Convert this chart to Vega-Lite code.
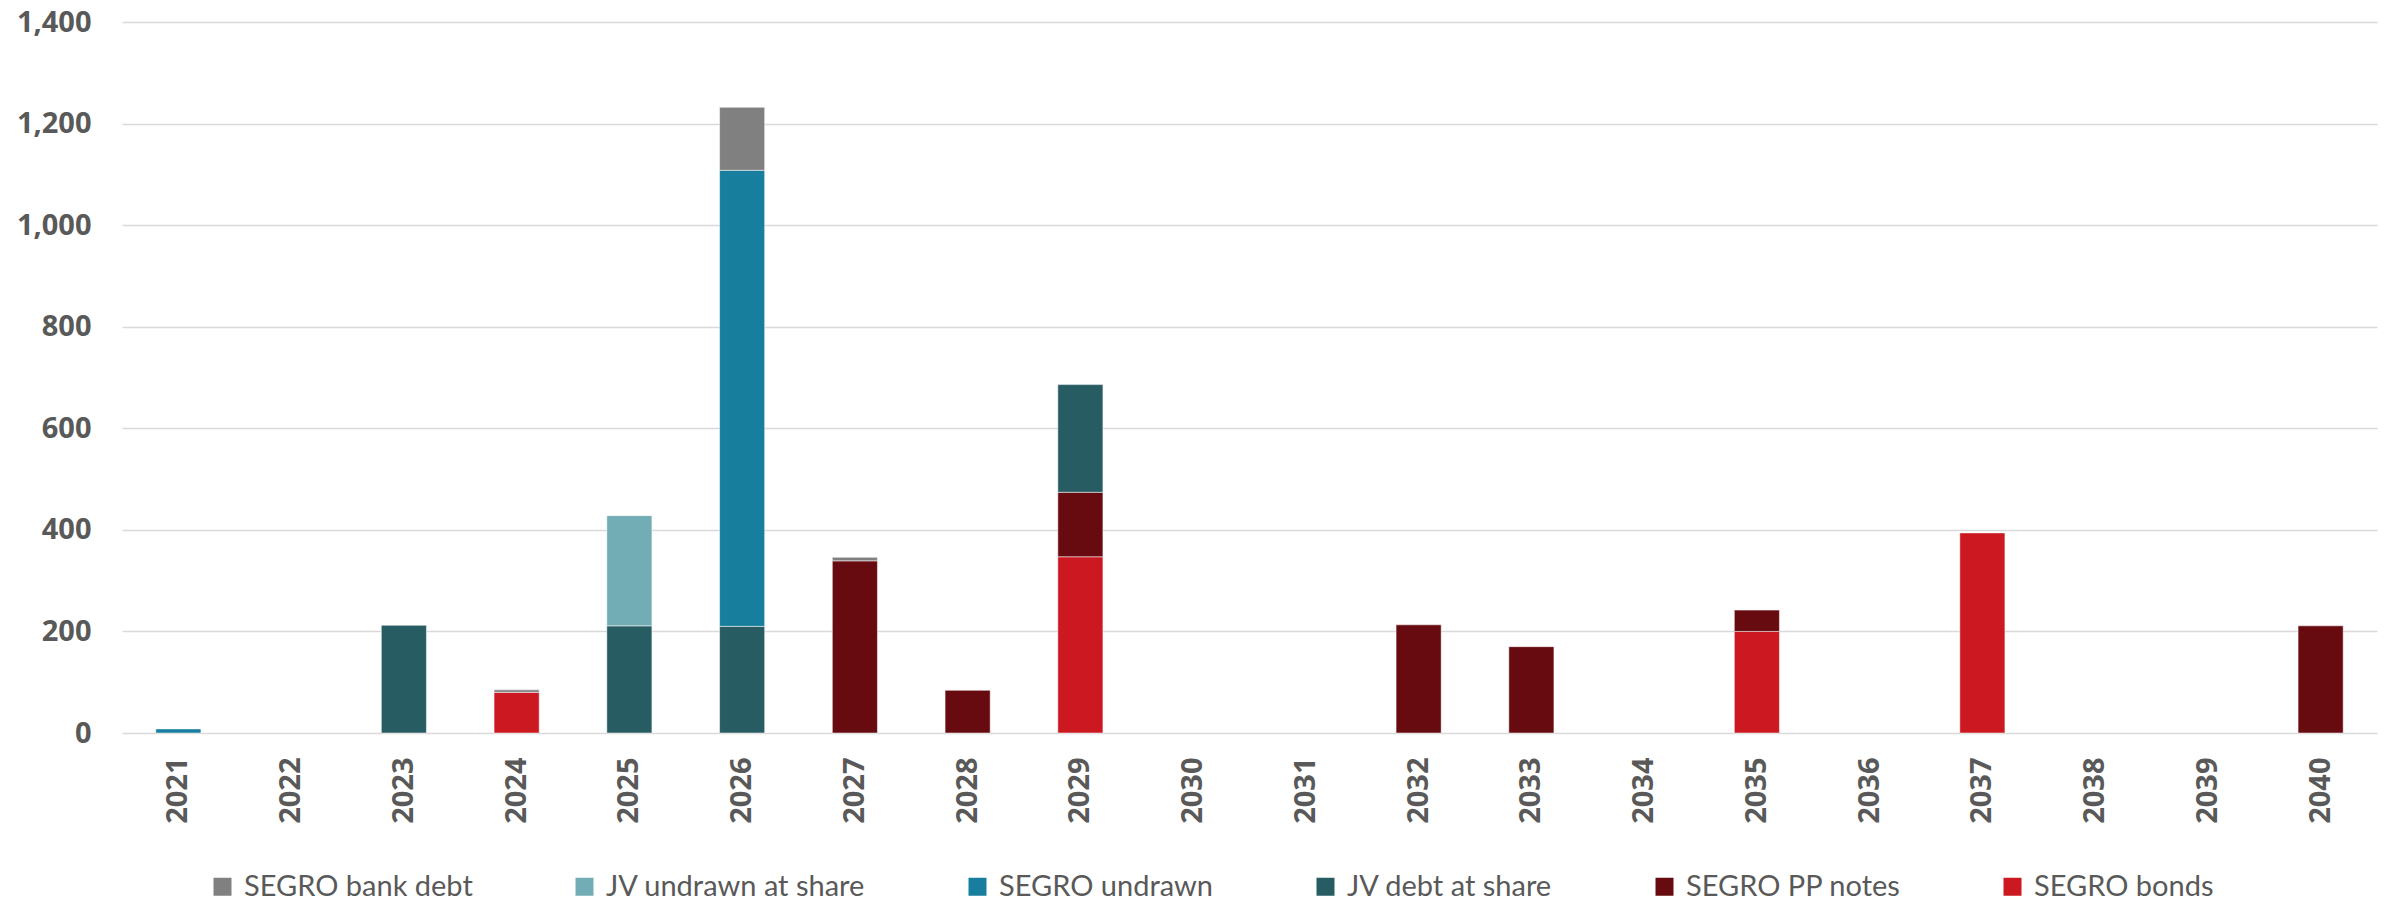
{
  "$schema": "https://vega.github.io/schema/vega-lite/v6.json",
  "autosize": {"type": "none"},
  "width": 2255,
  "height": 711,
  "padding": {"left": 122, "top": 22, "right": 18, "bottom": 170},
  "background": "white",
  "config": {
    "view": {"stroke": null},
    "font": "Open Sans"
  },
  "data": {
    "values": [
      {"year": "2021", "series": "SEGRO undrawn", "value": 8},
      {"year": "2023", "series": "JV debt at share", "value": 212},
      {"year": "2024", "series": "SEGRO bonds", "value": 80},
      {"year": "2024", "series": "SEGRO bank debt", "value": 5},
      {"year": "2025", "series": "JV debt at share", "value": 211},
      {"year": "2025", "series": "JV undrawn at share", "value": 217},
      {"year": "2026", "series": "JV debt at share", "value": 210},
      {"year": "2026", "series": "SEGRO undrawn", "value": 898},
      {"year": "2026", "series": "SEGRO bank debt", "value": 124},
      {"year": "2027", "series": "SEGRO PP notes", "value": 339},
      {"year": "2027", "series": "SEGRO bank debt", "value": 7},
      {"year": "2028", "series": "SEGRO PP notes", "value": 84},
      {"year": "2029", "series": "SEGRO bonds", "value": 347},
      {"year": "2029", "series": "SEGRO PP notes", "value": 127},
      {"year": "2029", "series": "JV debt at share", "value": 212},
      {"year": "2032", "series": "SEGRO PP notes", "value": 213},
      {"year": "2033", "series": "SEGRO PP notes", "value": 170},
      {"year": "2035", "series": "SEGRO bonds", "value": 200},
      {"year": "2035", "series": "SEGRO PP notes", "value": 42},
      {"year": "2037", "series": "SEGRO bonds", "value": 394},
      {"year": "2040", "series": "SEGRO PP notes", "value": 211}
    ]
  },
  "transform": [
    {"calculate": "indexof(['SEGRO bonds', 'SEGRO PP notes', 'JV debt at share', 'SEGRO undrawn', 'JV undrawn at share', 'SEGRO bank debt'], datum.series)", "as": "stackOrder"}
  ],
  "mark": {"type": "bar", "stroke": "white", "strokeWidth": 0.5},
  "encoding": {
    "x": {
      "field": "year",
      "type": "ordinal",
      "scale": {
        "domain": ["2021", "2022", "2023", "2024", "2025", "2026", "2027", "2028", "2029", "2030", "2031", "2032", "2033", "2034", "2035", "2036", "2037", "2038", "2039", "2040"],
        "paddingInner": 0.6,
        "paddingOuter": 0.3
      },
      "axis": {
        "title": null,
        "labelAngle": 270,
        "labelAlign": "right",
        "labelBaseline": "middle",
        "labelPadding": 24,
        "labelFont": "Open Sans",
        "labelFontSize": 29,
        "labelFontWeight": "bold",
        "labelColor": "#595959",
        "ticks": false,
        "domain": false,
        "grid": false
      }
    },
    "y": {
      "field": "value",
      "type": "quantitative",
      "stack": "zero",
      "scale": {"domain": [0, 1400], "nice": false},
      "axis": {
        "title": null,
        "values": [0, 200, 400, 600, 800, 1000, 1200, 1400],
        "format": ",.0f",
        "labelFont": "Open Sans",
        "labelFontSize": 29,
        "labelFontWeight": "bold",
        "labelColor": "#595959",
        "labelPadding": 31,
        "ticks": false,
        "domain": false,
        "grid": true,
        "gridColor": "#d9d9d9",
        "gridWidth": 1.5
      }
    },
    "color": {
      "field": "series",
      "type": "nominal",
      "scale": {
        "domain": ["SEGRO bank debt", "JV undrawn at share", "SEGRO undrawn", "JV debt at share", "SEGRO PP notes", "SEGRO bonds"],
        "range": ["#808080", "#72adb5", "#187e9e", "#275c63", "#670b10", "#cc1820"]
      },
      "legend": {
        "title": null,
        "orient": "none",
        "direction": "horizontal",
        "columns": 6,
        "legendX": 86,
        "legendY": 850,
        "symbolType": "square",
        "symbolSize": 324,
        "symbolStrokeWidth": 0,
        "labelFont": "Lato",
        "labelFontSize": 29,
        "labelColor": "#595959",
        "labelOffset": 7,
        "labelLimit": 400,
        "columnPadding": 97
      }
    },
    "order": {"field": "stackOrder", "type": "quantitative", "sort": "ascending"}
  }
}
